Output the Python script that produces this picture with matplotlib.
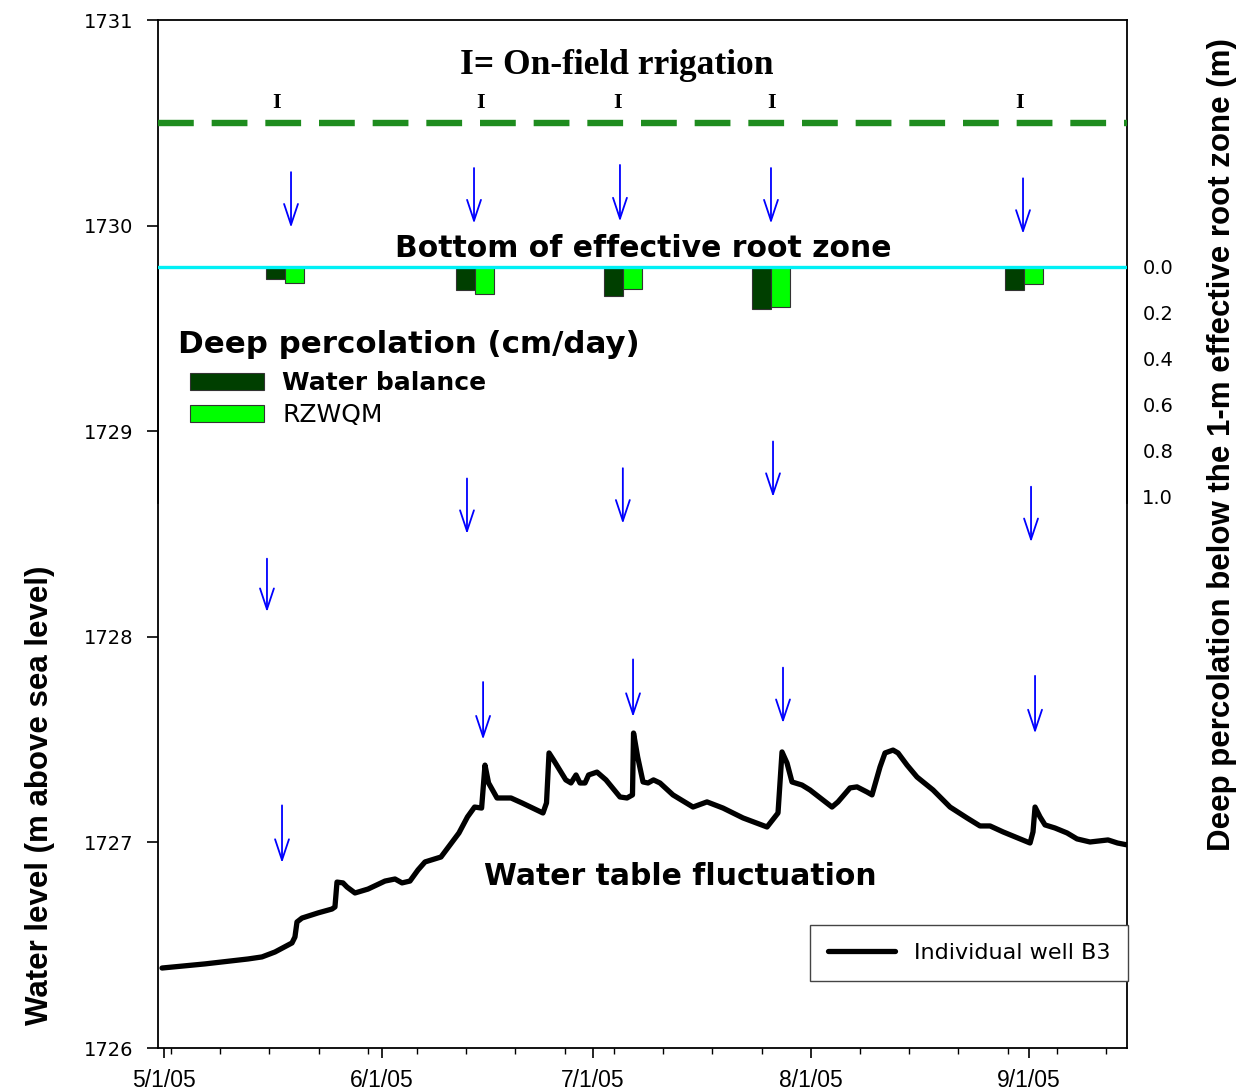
import numpy as np
import matplotlib
matplotlib.use("Agg")
import matplotlib.pyplot as plt
import matplotlib.dates as mdates
import datetime as dt

# ---------------- data ----------------
start_date = dt.datetime(2005, 5, 1)

# water table (days after 5/1/05, m above sea level)
wt_day = [-0.28, 5.83, 11.95, 13.94, 15.79, 18.21, 18.63, 18.92, 19.63, 21.91,
          23.90, 24.32, 24.61, 25.46, 26.03, 27.17, 29.02, 31.44, 32.86, 33.86,
          34.99, 36.13, 37.13, 39.40, 41.96, 43.17, 44.18, 45.18, 45.66, 46.17,
          47.37, 49.36, 50.92, 53.91, 54.41, 54.77, 55.41, 57.15, 57.89, 58.61,
          59.17, 59.89, 60.40, 61.59, 62.87, 64.86, 65.86, 66.64, 66.79, 67.38,
          68.14, 68.85, 69.63, 70.55, 72.40, 75.25, 77.24, 79.52, 82.36, 85.78,
          87.34, 87.91, 88.62, 89.33, 90.75, 91.89, 95.02, 95.87, 97.58, 98.58,
          100.00, 100.71, 101.85, 102.56, 103.70, 104.41, 105.69, 107.11, 109.39, 111.81,
          114.22, 116.07, 117.50, 119.35, 123.19, 123.61, 123.90, 124.61, 125.32, 126.74,
          128.45, 129.87, 131.72, 134.28, 135.63, 137.13]
wt_level = [1726.389, 1726.409, 1726.433, 1726.443, 1726.467, 1726.511, 1726.540, 1726.613, 1726.632, 1726.657,
            1726.676, 1726.686, 1726.807, 1726.803, 1726.783, 1726.754, 1726.773, 1726.812, 1726.822, 1726.803,
            1726.812, 1726.866, 1726.905, 1726.929, 1727.046, 1727.124, 1727.172, 1727.167, 1727.376, 1727.289,
            1727.216, 1727.216, 1727.192, 1727.143, 1727.192, 1727.435, 1727.401, 1727.304, 1727.289, 1727.328,
            1727.289, 1727.289, 1727.328, 1727.342, 1727.304, 1727.221, 1727.216, 1727.231, 1727.532, 1727.415,
            1727.294, 1727.289, 1727.304, 1727.289, 1727.231, 1727.172, 1727.197, 1727.167, 1727.119, 1727.075,
            1727.143, 1727.440, 1727.386, 1727.294, 1727.279, 1727.255, 1727.172, 1727.197, 1727.265, 1727.270,
            1727.245, 1727.231, 1727.367, 1727.435, 1727.449, 1727.435, 1727.376, 1727.318, 1727.255, 1727.172,
            1727.119, 1727.080, 1727.080, 1727.051, 1726.997, 1727.051, 1727.172, 1727.124, 1727.085, 1727.070,
            1727.046, 1727.017, 1727.002, 1727.012, 1726.997, 1726.987]

# deep percolation events (days after 5/1/05) and depths (m)
dp_day = [17.2, 44.2, 65.3, 86.3, 122.3]
dp_water_balance = [0.055, 0.103, 0.127, 0.183, 0.103]
dp_rzwqm = [0.070, 0.117, 0.098, 0.175, 0.077]

# irrigation events (days after 5/1/05)
irr_day = [16.07, 45.09, 64.58, 86.49, 121.76]

# levels of reference lines
irrigation_level = 1730.5
root_zone_bottom = 1729.8

# arrows: (day, top level, tip level)
arrow_day = [18.07, 44.10, 64.86, 86.34, 122.19,
             14.65, 43.10, 65.27, 86.63, 123.33,
             16.79, 45.39, 66.72, 88.05, 123.90]
arrow_top = [1730.26, 1730.28, 1730.295, 1730.28, 1730.23,
             1728.38, 1728.77, 1728.82, 1728.95, 1728.73,
             1727.18, 1727.78, 1727.89, 1727.85, 1727.81]
arrow_tip = [1729.99, 1730.01, 1730.02, 1730.01, 1729.96,
             1728.12, 1728.50, 1728.55, 1728.68, 1728.46,
             1726.90, 1727.50, 1727.61, 1727.58, 1727.53]

month_ticks = [dt.datetime(2005, m, 1) for m in (5, 6, 7, 8, 9)]
month_labels = ["5/1/05", "6/1/05", "7/1/05", "8/1/05", "9/1/05"]
level_ticks = [1726, 1727, 1728, 1729, 1730, 1731]
dp_ticks = [0.0, 0.2, 0.4, 0.6, 0.8, 1.0]

# ---------------- helpers ----------------
base = mdates.date2num(start_date)
def dnum(d):
    return base + np.asarray(d, dtype=float)

W, H = 1243, 1091
fig = plt.figure(figsize=(W / 100, H / 100), dpi=100, facecolor="white")

ax_l, ax_r, ax_t, ax_b = 158, 1127, 20, 1048
ax = fig.add_axes([ax_l / W, (H - ax_b) / H, (ax_r - ax_l) / W, (ax_b - ax_t) / H])
ymin, ymax = 1726, 1731
px_per_m = (ax_b - ax_t) / (ymax - ymin)
top2 = ax_t + (ymax - root_zone_bottom) * px_per_m
bot2 = 503
ax2 = fig.add_axes([ax_l / W, (H - bot2) / H, (ax_r - ax_l) / W, (bot2 - top2) / H], sharex=ax)

ax.set_zorder(2)
ax2.set_zorder(1)
ax.patch.set_facecolor("none")
ax2.patch.set_facecolor("white")

# main axis
ax.set_ylim(ymin, ymax)
ax.set_xlim(dnum(-0.85), dnum(136.98))
ax.set_yticks(level_ticks)
ax.set_yticklabels([str(v) for v in level_ticks], family="DejaVu Sans", fontsize=14)
ax.set_xticks(mdates.date2num(month_ticks))
ax.set_xticklabels(month_labels, family="Liberation Sans", fontsize=16.5)
ax.xaxis.set_minor_locator(mdates.WeekdayLocator(byweekday=mdates.MO))
ax.tick_params(axis="y", direction="out", length=8, width=1.2, pad=10)
ax.tick_params(axis="x", which="major", direction="out", length=7, width=1.2, pad=8)
ax.tick_params(axis="x", which="minor", direction="out", length=4, width=1.0)
for s in ax.spines.values():
    s.set_linewidth(1.3)

# water table line
ax.plot(dnum(wt_day), wt_level, color="black", lw=3.8, solid_joinstyle="round",
        solid_capstyle="round", label="Individual well B3", zorder=4)

# reference lines
ax.axhline(irrigation_level, color="#1e8c1e", lw=4.6, dashes=(5.6, 2.8), zorder=3)
ax.axhline(root_zone_bottom, color="#00f0f5", lw=2.4, zorder=3)

# arrows
for d, a, b in zip(arrow_day, arrow_top, arrow_tip):
    ax.annotate("", xy=(dnum(d), b), xytext=(dnum(d), a),
                arrowprops=dict(arrowstyle="->,head_length=0.75,head_width=0.25",
                                color="#0000ff", lw=1.3, shrinkA=0, shrinkB=0,
                                mutation_scale=20), zorder=5)

# irrigation labels
for d in irr_day:
    ax.text(dnum(d), 1730.595, "I", ha="center", va="center", family="Liberation Serif",
            weight="bold", fontsize=16)
ax.text(dnum(64.44), 1730.78, "I= On-field rrigation", ha="center", va="center",
        family="Liberation Serif", weight="bold", fontsize=25.5)
ax.text(dnum(68.14), 1729.89, "Bottom of effective root zone", ha="center", va="center",
        family="DejaVu Sans", weight="bold", fontsize=21.5)
ax.text(dnum(1.99), 1729.424, "Deep percolation (cm/day)", ha="left", va="center",
        family="DejaVu Sans", weight="bold", fontsize=22.2)
ax.text(dnum(73.4), 1726.832, "Water table fluctuation", ha="center", va="center",
        family="DejaVu Sans", weight="bold", fontsize=21.5)

# well legend
leg1 = ax.legend(loc="lower right", bbox_to_anchor=(1128 / W, (H - 981) / H),
                 bbox_transform=fig.transFigure, borderaxespad=0, fancybox=False,
                 frameon=True, edgecolor="#444444", framealpha=1, handlelength=3.0,
                 handletextpad=0.85, borderpad=0.8, prop=dict(family="DejaVu Sans", size=16))
leg1.get_frame().set_linewidth(1.0)

# secondary axis: deep percolation bars
bw = 2.70
b1 = ax2.bar(dnum(dp_day) - bw / 2, dp_water_balance, width=bw, color="#003f00",
             edgecolor="#333333", linewidth=0.8, label="Water balance")
b2 = ax2.bar(dnum(dp_day) + bw / 2, dp_rzwqm, width=bw, color="#00ff00",
             edgecolor="#333333", linewidth=0.8, label="RZWQM")
px_per_unit = 230.0
ax2.set_ylim((bot2 - top2) / px_per_unit, 0)
ax2.yaxis.tick_right()
ax2.set_yticks(dp_ticks)
ax2.set_yticklabels(["%.1f" % v for v in dp_ticks], family="DejaVu Sans", fontsize=14)
ax2.tick_params(axis="y", length=0, pad=11)
ax2.tick_params(axis="x", which="both", bottom=False, labelbottom=False)
ax2.spines["top"].set_visible(False)
ax2.spines["bottom"].set_visible(False)
for s in ("left", "right"):
    ax2.spines[s].set_linewidth(1.3)

leg2 = ax2.legend(handles=[b1, b2], loc="upper left",
                  bbox_to_anchor=(190 / W, (H - 371) / H), bbox_transform=fig.transFigure,
                  borderaxespad=0, borderpad=0, frameon=False, handlelength=2.95,
                  handleheight=0.65, handletextpad=0.75, labelspacing=0.32,
                  prop=dict(family="DejaVu Sans", size=18))
leg2.get_texts()[0].set_fontweight("bold")

# axis titles
fig.text(40 / W, 1 - 795 / H, "Water level (m above sea level)", rotation=90,
         ha="center", va="center", family="Liberation Sans",
         weight="bold", fontsize=22.5)
fig.text(1222 / W, 1 - 445 / H, "Deep percolation below the 1-m effective root zone (m)",
         rotation=90, ha="center", va="center",
         family="Liberation Sans", weight="bold", fontsize=22.5)

fig.savefig("out.png", dpi=100, facecolor="white")
